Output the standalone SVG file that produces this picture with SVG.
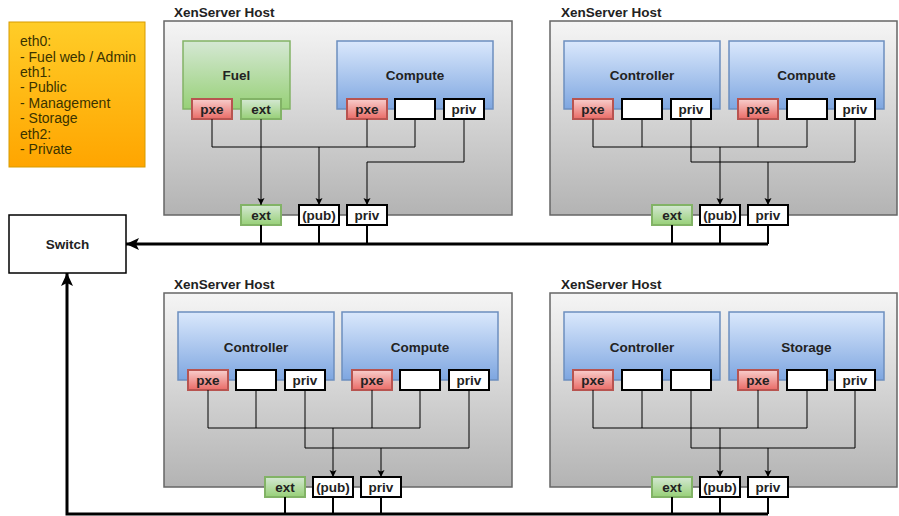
<svg xmlns="http://www.w3.org/2000/svg" width="899" height="516" viewBox="0 0 899 516">
<defs>
<linearGradient id="gHost" x1="0" y1="0" x2="0" y2="1"><stop offset="0" stop-color="#f5f5f5"/><stop offset="1" stop-color="#b3b3b3"/></linearGradient>
<linearGradient id="gBlue" x1="0" y1="0" x2="0" y2="1"><stop offset="0" stop-color="#dae8fc"/><stop offset="1" stop-color="#7ea6e0"/></linearGradient>
<linearGradient id="gGreen" x1="0" y1="0" x2="0" y2="1"><stop offset="0" stop-color="#d5e8d4"/><stop offset="1" stop-color="#97d077"/></linearGradient>
<linearGradient id="gRed" x1="0" y1="0" x2="0" y2="1"><stop offset="0" stop-color="#f8cecc"/><stop offset="1" stop-color="#ea6b66"/></linearGradient>
<linearGradient id="gOrange" x1="0" y1="0" x2="0" y2="1"><stop offset="0" stop-color="#ffcd28"/><stop offset="1" stop-color="#ffa500"/></linearGradient>
<marker id="aS" markerUnits="userSpaceOnUse" markerWidth="10" markerHeight="10" viewBox="-1 -5 10 10" refX="7" refY="0" orient="auto"><path d="M0,-3.5 L7,0 L0,3.5 L1.5,0 z" fill="#000"/></marker>
<marker id="aB" markerUnits="userSpaceOnUse" markerWidth="16" markerHeight="16" viewBox="-1 -8 16 16" refX="13" refY="0" orient="auto"><path d="M0,-6 L13,0 L0,6 L3,0 z" fill="#000"/></marker>
<style>
text{font-family:"Liberation Sans",Arial,sans-serif;font-size:13.5px;fill:#222}
.lg{font-size:14px;fill:#3a3300}
.b{font-weight:bold}
.c{text-anchor:middle;dominant-baseline:central}
.host{fill:url(#gHost);stroke:#666;stroke-width:1.5}
.blue{fill:url(#gBlue);stroke:#6c8ebf;stroke-width:1.5}
.green{fill:url(#gGreen);stroke:#82b366;stroke-width:1.5}
.pr{fill:url(#gRed);stroke:#b85450;stroke-width:2}
.pg{fill:url(#gGreen);stroke:#82b366;stroke-width:2}
.pw{fill:#fff;stroke:#000;stroke-width:2}
.ln{fill:none;stroke:#000;stroke-width:1}
.dr{fill:none;stroke:#000;stroke-width:2}
.bus{fill:none;stroke:#000;stroke-width:3}
</style>
</defs>

<g id="legend">
<rect x="9" y="22" width="136" height="145" fill="url(#gOrange)" stroke="#d79b00" stroke-width="1"/>
<text class="lg" x="20" y="46">eth0:</text>
<text class="lg" x="20" y="61.5">- Fuel web / Admin</text>
<text class="lg" x="20" y="77">eth1:</text>
<text class="lg" x="20" y="92">- Public</text>
<text class="lg" x="20" y="107.5">- Management</text>
<text class="lg" x="20" y="123">- Storage</text>
<text class="lg" x="20" y="138.5">eth2:</text>
<text class="lg" x="20" y="154">- Private</text>
</g>

<g id="switch">
<rect x="9" y="215" width="117" height="58" fill="#fff" stroke="#000" stroke-width="1.5"/>
<text class="b c" x="67.5" y="244.5">Switch</text>
</g>

<g id="host1">
<rect class="host" x="164" y="21" width="348" height="194"/>
<text class="b" x="174" y="17">XenServer Host</text>
<g id="h1-fuel"><rect class="green" x="183" y="41" width="107" height="68"/><text class="b c" x="236.5" y="75.5">Fuel</text>
<rect class="pr" x="192" y="99" width="40" height="20"/><text class="b c" x="212" y="109">pxe</text>
<rect class="pg" x="241" y="99" width="40" height="20"/><text class="b c" x="261" y="109">ext</text></g>
<g id="h1-compute"><rect class="blue" x="337" y="41" width="156" height="68"/><text class="b c" x="415" y="75.5">Compute</text>
<rect class="pr" x="347" y="99" width="40" height="20"/><text class="b c" x="367" y="109">pxe</text>
<rect class="pw" x="395" y="99" width="40" height="20"/>
<rect class="pw" x="444" y="99" width="40" height="20"/><text class="b c" x="464" y="109">priv</text></g>
<g id="h1-nics">
<rect class="pg" x="241" y="205" width="40" height="20"/><text class="b c" x="261" y="215">ext</text>
<rect class="pw" x="299" y="205" width="40" height="20"/><text class="b c" x="319" y="215">(pub)</text>
<rect class="pw" x="347" y="205" width="40" height="20"/><text class="b c" x="367" y="215">priv</text></g>
</g>

<g id="host2">
<rect class="host" x="550" y="21" width="347" height="194"/>
<text class="b" x="561" y="17">XenServer Host</text>
<g id="h2-controller"><rect class="blue" x="564" y="41" width="156" height="68"/><text class="b c" x="642" y="75.5">Controller</text>
<rect class="pr" x="573" y="99" width="40" height="20"/><text class="b c" x="593" y="109">pxe</text>
<rect class="pw" x="622" y="99" width="40" height="20"/>
<rect class="pw" x="671" y="99" width="40" height="20"/><text class="b c" x="691" y="109">priv</text></g>
<g id="h2-compute"><rect class="blue" x="729" y="41" width="155" height="68"/><text class="b c" x="806.5" y="75.5">Compute</text>
<rect class="pr" x="738" y="99" width="40" height="20"/><text class="b c" x="758" y="109">pxe</text>
<rect class="pw" x="787" y="99" width="40" height="20"/>
<rect class="pw" x="835" y="99" width="40" height="20"/><text class="b c" x="855" y="109">priv</text></g>
<g id="h2-nics">
<rect class="pg" x="652" y="205" width="40" height="20"/><text class="b c" x="672" y="215">ext</text>
<rect class="pw" x="700" y="205" width="40" height="20"/><text class="b c" x="720" y="215">(pub)</text>
<rect class="pw" x="748" y="205" width="40" height="20"/><text class="b c" x="768" y="215">priv</text></g>
</g>

<g id="host3">
<rect class="host" x="164" y="293" width="348" height="194"/>
<text class="b" x="174" y="288.5">XenServer Host</text>
<g id="h3-controller"><rect class="blue" x="178" y="312" width="156" height="68"/><text class="b c" x="256" y="347">Controller</text>
<rect class="pr" x="188" y="370" width="40" height="20"/><text class="b c" x="208" y="380">pxe</text>
<rect class="pw" x="236" y="370" width="40" height="20"/>
<rect class="pw" x="285" y="370" width="40" height="20"/><text class="b c" x="305" y="380">priv</text></g>
<g id="h3-compute"><rect class="blue" x="342" y="312" width="156" height="68"/><text class="b c" x="420" y="347">Compute</text>
<rect class="pr" x="352" y="370" width="40" height="20"/><text class="b c" x="372" y="380">pxe</text>
<rect class="pw" x="400" y="370" width="40" height="20"/>
<rect class="pw" x="449" y="370" width="40" height="20"/><text class="b c" x="469" y="380">priv</text></g>
<g id="h3-nics">
<rect class="pg" x="265" y="477" width="40" height="20"/><text class="b c" x="285" y="487">ext</text>
<rect class="pw" x="313" y="477" width="40" height="20"/><text class="b c" x="333" y="487">(pub)</text>
<rect class="pw" x="361" y="477" width="40" height="20"/><text class="b c" x="381" y="487">priv</text></g>
</g>

<g id="host4">
<rect class="host" x="550" y="293" width="347" height="194"/>
<text class="b" x="561" y="288.5">XenServer Host</text>
<g id="h4-controller"><rect class="blue" x="564" y="312" width="156" height="68"/><text class="b c" x="642" y="347">Controller</text>
<rect class="pr" x="573" y="370" width="40" height="20"/><text class="b c" x="593" y="380">pxe</text>
<rect class="pw" x="622" y="370" width="40" height="20"/>
<rect class="pw" x="671" y="370" width="40" height="20"/></g>
<g id="h4-storage"><rect class="blue" x="729" y="312" width="155" height="68"/><text class="b c" x="806.5" y="347">Storage</text>
<rect class="pr" x="738" y="370" width="40" height="20"/><text class="b c" x="758" y="380">pxe</text>
<rect class="pw" x="787" y="370" width="40" height="20"/>
<rect class="pw" x="835" y="370" width="40" height="20"/><text class="b c" x="855" y="380">priv</text></g>
<g id="h4-nics">
<rect class="pg" x="652" y="477" width="40" height="20"/><text class="b c" x="672" y="487">ext</text>
<rect class="pw" x="700" y="477" width="40" height="20"/><text class="b c" x="720" y="487">(pub)</text>
<rect class="pw" x="748" y="477" width="40" height="20"/><text class="b c" x="768" y="487">priv</text></g>
</g>

<g id="connectors">
<path class="ln" d="M212,119 V147 H415 V119 M367,119 V147"/>
<path class="ln" d="M319,147 V205" marker-end="url(#aS)"/>
<path class="ln" d="M261,119 V205" marker-end="url(#aS)"/>
<path class="ln" d="M464,119 V162 H367 V205" marker-end="url(#aS)"/>
<path class="dr" d="M261,225 V244 M319,225 V244 M367,225 V244"/>
<path class="ln" d="M593,119 V147 H807 V119 M642,119 V147 M758,119 V147"/>
<path class="ln" d="M720,147 V205" marker-end="url(#aS)"/>
<path class="ln" d="M691,119 V162 H855 V119"/>
<path class="ln" d="M768,162 V205" marker-end="url(#aS)"/>
<path class="dr" d="M672,225 V244 M720,225 V244 M768,225 V244"/>
<path class="bus" d="M768,244 H126" marker-end="url(#aB)"/>
<path class="ln" d="M208,390 V428 H420 V390 M256,390 V428 M372,390 V428"/>
<path class="ln" d="M333,428 V477" marker-end="url(#aS)"/>
<path class="ln" d="M305,390 V448 H469 V390"/>
<path class="ln" d="M381,448 V477" marker-end="url(#aS)"/>
<path class="dr" d="M285,497 V514 M333,497 V514 M381,497 V514"/>
<path class="ln" d="M593,390 V428 H807 V390 M642,390 V428 M758,390 V428"/>
<path class="ln" d="M720,428 V477" marker-end="url(#aS)"/>
<path class="ln" d="M691,390 V448 H855 V390"/>
<path class="ln" d="M768,448 V477" marker-end="url(#aS)"/>
<path class="dr" d="M672,497 V514 M720,497 V514 M768,497 V514"/>
<path class="bus" d="M768,514 H67 V273" marker-end="url(#aB)"/>
</g>
</svg>
